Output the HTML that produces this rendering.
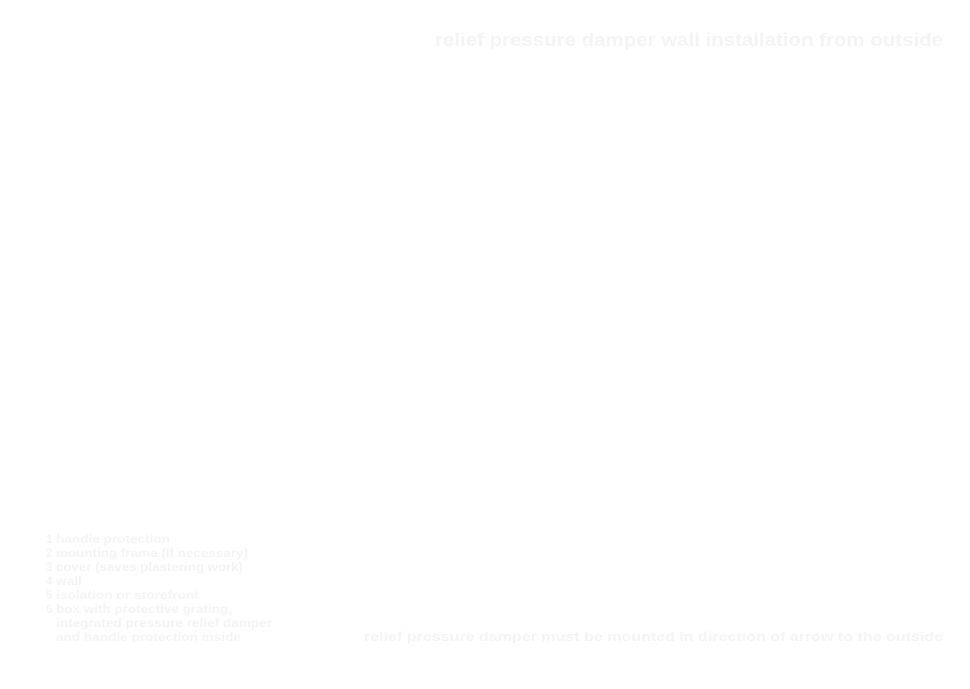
<!DOCTYPE html>
<html><head><meta charset="utf-8"><style>
html,body{margin:0;padding:0;background:#fff;}
svg{display:block;}
text{font-family:"Liberation Sans",sans-serif;font-weight:bold;fill:#f4f4f4;}
</style></head><body>
<svg width="970" height="689" viewBox="0 0 970 689" xmlns="http://www.w3.org/2000/svg">
<rect width="970" height="689" fill="#fff"/>
<text x="435" y="46" font-size="18" textLength="508" lengthAdjust="spacingAndGlyphs">relief pressure damper wall installation from outside</text>
<g font-size="11.5">
<text x="46" y="543">1</text><text x="56" y="543" textLength="114" lengthAdjust="spacingAndGlyphs">handle protection</text>
<text x="46" y="557">2</text><text x="56" y="557" textLength="192" lengthAdjust="spacingAndGlyphs">mounting frame (if necessary)</text>
<text x="46" y="571">3</text><text x="56" y="571" textLength="187" lengthAdjust="spacingAndGlyphs">cover (saves plastering work)</text>
<text x="46" y="585">4</text><text x="56" y="585" textLength="26" lengthAdjust="spacingAndGlyphs">wall</text>
<text x="46" y="599">5</text><text x="56" y="599" textLength="143" lengthAdjust="spacingAndGlyphs">isolation or storefront</text>
<text x="46" y="613">6</text><text x="56" y="613" textLength="176" lengthAdjust="spacingAndGlyphs">box with protective grating,</text>
<text x="56" y="627" textLength="216" lengthAdjust="spacingAndGlyphs">integrated pressure relief damper</text>
<text x="56" y="641" textLength="185" lengthAdjust="spacingAndGlyphs">and handle protection inside</text>
</g>
<text x="364" y="641" font-size="13" textLength="579" lengthAdjust="spacingAndGlyphs">relief pressure damper must be mounted in direction of arrow to the outside</text>
</svg>
</body></html>
